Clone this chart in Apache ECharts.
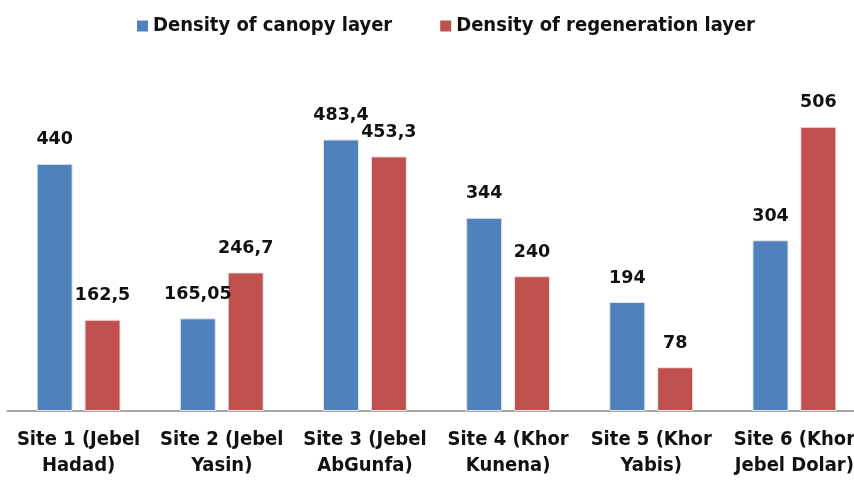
<!DOCTYPE html>
<html>
<head>
<meta charset="utf-8">
<script src="https://cdn.jsdelivr.net/npm/echarts@6/dist/echarts.min.js"></script>
<style>
  html, body { margin: 0; padding: 0; background: #fff; overflow: hidden; }
  /* the original plot runs a little past the right edge of the picture */
  #chart { width: 866px; height: 483px; }
</style>
</head>
<body>
<div id="chart"></div>
<script>
// chart data
const sites = [
  'Site 1 (Jebel\nHadad)',
  'Site 2 (Jebel\nYasin)',
  'Site 3 (Jebel\nAbGunfa)',
  'Site 4 (Khor\nKunena)',
  'Site 5 (Khor\nYabis)',
  'Site 6 (Khor\nJebel Dolar)'
];
const canopy = [440, 165.05, 483.4, 344, 194, 304];
const regeneration = [162.5, 246.7, 453.3, 240, 78, 506];
const seriesNames = ['Density of canopy layer', 'Density of regeneration layer'];

const chart = echarts.init(document.getElementById('chart'));

// labels use a decimal comma like the original
const commaLabel = (p) => String(p.value).replace('.', ',');

const narrowFont = 'Liberation Sans Narrow, DejaVu Sans Condensed, sans-serif';

const labelStyle = {
  show: true,
  position: 'top',
  distance: 15,
  fontFamily: 'DejaVu Sans',
  fontWeight: 'bold',
  fontSize: 17.5,
  color: '#111',
  formatter: commaLabel
};

chart.setOption({
  backgroundColor: '#fff',
  animation: false,
  legend: {
    data: seriesNames,
    left: 132,
    top: 11,
    itemWidth: 11,
    itemHeight: 11,
    itemGap: 48,
    icon: 'rect',
    itemStyle: { borderWidth: 0 },
    textStyle: {
      fontFamily: narrowFont,
      fontWeight: 'bold',
      fontSize: 20,
      color: '#111'
    }
  },
  grid: { left: 7, right: 0, top: 74, bottom: 72 },
  xAxis: {
    type: 'category',
    data: sites,
    axisTick: { show: false },
    axisLine: { lineStyle: { color: '#8a8a8a', width: 1.5 } },
    axisLabel: {
      interval: 0,
      margin: 16,
      lineHeight: 26,
      fontFamily: narrowFont,
      fontWeight: 'bold',
      fontSize: 20,
      color: '#111'
    }
  },
  yAxis: {
    type: 'value',
    min: 0,
    max: 600,
    show: false,
    splitLine: { show: false }
  },
  series: [{
    name: seriesNames[0],
    type: 'bar',
    data: canopy,
    barWidth: 36,
    barGap: '33%',
    itemStyle: {
      color: '#4F81BD',
      borderColor: '#e6e6e6',
      borderWidth: 1
    },
    label: labelStyle
  }, {
    name: seriesNames[1],
    type: 'bar',
    data: regeneration,
    barWidth: 36,
    itemStyle: {
      color: '#C0504D',
      borderColor: '#e6e6e6',
      borderWidth: 1
    },
    label: labelStyle
  }]
});
</script>
</body>
</html>
